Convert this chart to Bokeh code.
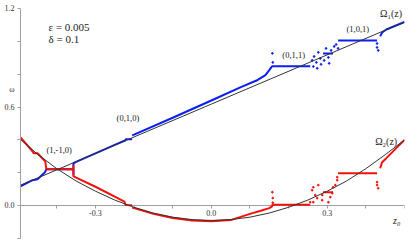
from bokeh.plotting import figure
from bokeh.models import Label, FixedTicker, PrintfTickFormatter
from bokeh.embed import file_html
from bokeh.resources import INLINE

# theoretical curves
omega1_z = [-0.5, -0.25, 0.0, 0.25, 0.5]
omega1_w = [0.118, 0.368, 0.618, 0.868, 1.118]
omega2_z = [-0.5, -0.45, -0.4, -0.35, -0.3, -0.25, -0.2, -0.15, -0.1, -0.05, 0.0,
            0.05, 0.1, 0.15, 0.2, 0.25, 0.3, 0.35, 0.4, 0.45, 0.5]
omega2_w = [0.415, 0.313, 0.225, 0.15, 0.088, 0.034, -0.01, -0.045, -0.07, -0.085, -0.09,
            -0.085, -0.07, -0.045, -0.01, 0.034, 0.088, 0.15, 0.225, 0.31, 0.40]

# simulated omega_1 (blue), as connected runs
blue_z = [
    [-0.494, -0.463, -0.450, -0.430, -0.427, -0.357],
    [-0.357, -0.357, -0.350, -0.300, -0.250, -0.222, -0.222, -0.205],
    [-0.205, -0.200, -0.100, 0.000, 0.075, 0.120, 0.140, 0.150, 0.155, 0.158, 0.256],
    [0.289, 0.315],
    [0.328, 0.429],
    [0.437, 0.442, 0.453, 0.500],
]
blue_w = [
    [0.118, 0.155, 0.161, 0.205, 0.222, 0.222],
    [0.185, 0.258, 0.266, 0.318, 0.370, 0.398, 0.404, 0.404],
    [0.428, 0.432, 0.535, 0.640, 0.720, 0.765, 0.795, 0.825, 0.842, 0.848, 0.848],
    [0.926, 0.926],
    [1.005, 1.005],
    [1.030, 1.054, 1.072, 1.118],
]
blue_dots_z = [0.158, 0.159, 0.261, 0.266, 0.272, 0.277, 0.282, 0.284, 0.292, 0.297,
               0.303, 0.305, 0.310, 0.318, 0.323, 0.328, 0.264, 0.274, 0.429, 0.429, 0.432]
blue_dots_w = [0.927, 0.872, 0.884, 0.908, 0.872, 0.933, 0.896, 0.860, 0.884, 0.957,
               0.902, 0.866, 0.945, 0.969, 0.981, 0.957, 0.847, 0.836, 0.987, 0.963, 0.945]

# simulated omega_2 (red)
red_z = [
    [-0.494, -0.463, -0.460, -0.450, -0.430, -0.427, -0.357],
    [-0.357, -0.357, -0.350, -0.300, -0.250, -0.225, -0.222, -0.205],
    [-0.205, -0.200, -0.150, -0.100, -0.050, 0.000, 0.050, 0.100, 0.130, 0.150, 0.157, 0.158, 0.256],
    [0.289, 0.315],
    [0.328, 0.429],
    [0.437, 0.442, 0.453, 0.500],
]
red_w = [
    [0.416, 0.331, 0.319, 0.319, 0.270, 0.222, 0.222],
    [0.246, 0.179, 0.170, 0.115, 0.055, 0.025, 0.004, 0.002],
    [-0.012, -0.015, -0.050, -0.075, -0.090, -0.095, -0.088, -0.050, -0.030, -0.015, -0.005, 0.005, 0.005],
    [0.082, 0.082],
    [0.197, 0.197],
    [0.228, 0.264, 0.289, 0.400],
]
red_dots_z = [0.158, 0.159, 0.159,
              0.261, 0.264, 0.277, 0.269, 0.256, 0.264, 0.274, 0.287, 0.303, 0.308,
              0.313, 0.315, 0.321, 0.326, 0.326, 0.287, 0.429, 0.429, 0.432]
red_dots_w = [0.082, 0.046, 0.018,
              0.094, 0.112, 0.125, 0.064, 0.021, 0.021, 0.046, 0.033, 0.021, 0.052,
              0.076, 0.112, 0.125, 0.155, 0.173, 0.064, 0.143, 0.125, 0.106]

x_major = [-0.3, 0.0, 0.3]
x_minor = [-0.4, -0.2, -0.1, 0.1, 0.2, 0.4, 0.5]
y_major = [0.0, 0.6, 1.2]
y_minor = [-0.2, 0.0, 0.2, 0.4, 0.6, 0.8, 1.0, 1.2]
y_title_at = 0.708   # where the "ω" axis title sits on the value axis

SERIF = "'Liberation Serif', 'Times New Roman', serif"
BLUE = "#0a1ef5"
RED = "#f5100a"

p = figure(width=415, height=242, x_range=(-0.494, 0.5), y_range=(-0.2, 1.2),
           output_backend="svg", toolbar_location=None,
           min_border_left=20, min_border_right=11, min_border_top=8, min_border_bottom=4)
p.outline_line_color = None
p.xgrid.visible = False
p.ygrid.visible = False
p.background_fill_color = "white"
p.border_fill_color = "white"

for ax in (p.xaxis, p.yaxis):
    ax.axis_line_color = "#a0a0a0"
    ax.major_tick_line_color = "#a0a0a0"
    ax.minor_tick_line_color = "#a0a0a0"
    ax.major_tick_in = 0
    ax.major_tick_out = 3
    ax.minor_tick_in = 0
    ax.minor_tick_out = 3
    ax.major_label_text_font = SERIF
    ax.major_label_text_font_size = "8px"
    ax.major_label_text_color = "#333333"
    ax.formatter = PrintfTickFormatter(format="%.1f")

p.xaxis.level = "underlay"
p.xaxis.fixed_location = 0.0
p.xaxis.ticker = FixedTicker(ticks=x_major, minor_ticks=x_minor)
p.xaxis.major_label_standoff = 1

p.yaxis.ticker = FixedTicker(ticks=y_major + [y_title_at], minor_ticks=y_minor)
p.yaxis.major_label_overrides = {y_title_at: "ω"}
p.yaxis.major_tick_out = 0
p.yaxis.major_label_standoff = 3

p.multi_line(blue_z, blue_w, line_color=BLUE, line_width=2)
p.scatter(blue_dots_z, blue_dots_w, size=1.7, color=BLUE)
p.multi_line(red_z, red_w, line_color=RED, line_width=2)
p.scatter(red_dots_z, red_dots_w, size=1.7, color=RED)
p.line(omega1_z, omega1_w, line_color="#333333", line_width=1)
p.line(omega2_z, omega2_w, line_color="#333333", line_width=1)


def lab(x, y, text, size, align="center", style="normal"):
    p.add_layout(Label(x=x, y=y, text=text, text_font=SERIF, text_font_size=size,
                       text_align=align, text_baseline="middle", text_color="#222222",
                       text_font_style=style))


lab(-0.4215, 1.09, "ε = 0.005", "11px", align="left")
lab(-0.4215, 1.012, "δ = 0.1", "11px", align="left")
lab(-0.394, 0.338, "(1,-1,0)", "8.5px")
lab(-0.216, 0.532, "(0,1,0)", "8.5px")
lab(0.213, 0.92, "(0,1,1)", "8.5px")
lab(0.379, 1.078, "(1,0,1)", "8.5px")
lab(0.465, 1.17, "Ω₁(z)", "10px")
lab(0.4525, 0.392, "Ω₂(z)", "10px")
lab(0.48, -0.088, "z₀", "10px", style="italic")

open("out.html", "w").write(file_html(p, INLINE))
